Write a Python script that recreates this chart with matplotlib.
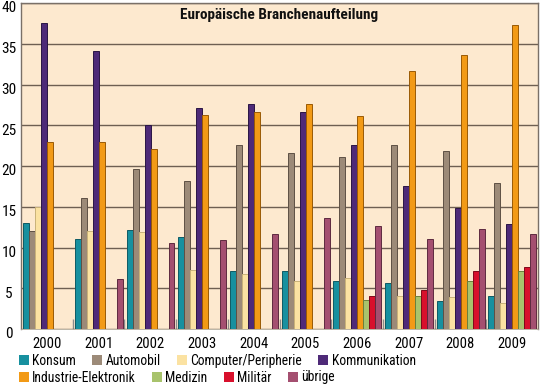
import numpy as np
import matplotlib
matplotlib.use("Agg")
import matplotlib.pyplot as plt
from matplotlib import font_manager
import matplotlib.transforms as mtransforms
from matplotlib.patches import Patch

names = {f.name for f in font_manager.fontManager.ttflist}
candidates = ["Liberation Sans Narrow", "Arial Narrow", "Roboto Condensed", "Archivo Narrow",
              "PT Sans Narrow", "Fira Sans Condensed", "IBM Plex Sans Condensed",
              "Encode Sans Condensed", "Barlow Semi Condensed", "Pragati Narrow", "DejaVu Sans"]
FAM = next(c for c in candidates if c in names)
plt.rcParams['font.family'] = [FAM, 'DejaVu Sans']

years = ["2000", "2001", "2002", "2003", "2004", "2005", "2006", "2007", "2008", "2009"]
series = ["Konsum", "Automobil", "Computer/Peripherie", "Kommunikation",
          "Industrie-Elektronik", "Medizin", "Militär", "übrige"]
konsum = [13.0, 11.1, 12.2, 11.3, 7.1, 7.1, 5.9, 5.6, 3.4, 4.1]
automobil = [12.0, 16.1, 19.6, 18.1, 22.6, 21.6, 21.1, 22.6, 21.9, 17.9]
computer = [15.0, 12.0, 11.9, 7.2, 6.7, 5.9, 6.3, 4.1, 3.9, 3.2]
kommunikation = [37.6, 34.1, 25.0, 27.1, 27.6, 26.6, 22.6, 17.6, 14.8, 12.9]
industrie = [22.9, 22.9, 22.1, 26.3, 26.6, 27.6, 26.1, 31.6, 33.6, 37.3]
medizin = [0, 0, 0, 0, 0, 0, 3.6, 4.1, 5.9, 7.1]
militaer = [0, 0, 0, 0, 0, 0, 4.1, 4.8, 7.1, 7.6]
uebrige = [0, 6.1, 10.6, 10.9, 11.6, 13.6, 12.6, 11.1, 12.3, 11.6]

values = [konsum, automobil, computer, kommunikation, industrie, medizin, militaer, uebrige]
colors = ["#17909f", "#9c8a78", "#fbe2a2", "#4e2a78", "#f29a16", "#a8c36c", "#d8102c", "#a44f70"]
edges = ["#0e5a64", "#5e5045", "#c9b27a", "#2a1545", "#9a5a05", "#6a803e", "#80081a", "#5e2a40"]

fig = plt.figure(figsize=(5.4, 3.85), dpi=100)
ax = fig.add_axes([21/540, 1 - 329/385, 517/540, 326/385])
ax.set_facecolor("#fde9cf")

x = np.arange(len(years))
w = 0.116
for i, (name, vals) in enumerate(zip(series, values)):
    vals = np.array(vals, dtype=float)
    m = vals > 0
    ax.bar(x[m] + (i - 3.5) * w + 0.005, vals[m], width=w, color=colors[i],
           edgecolor=edges[i], linewidth=0.7, zorder=3)

ax.set_xlim(-0.5, 9.5)
ax.set_ylim(0, 40)
ax.set_yticks(np.arange(0, 41, 5))
ax.yaxis.grid(True, color="#6e5f52", linewidth=1.0, zorder=1)
ax.set_axisbelow(True)
ax.set_xticks(x)
ax.set_xticklabels(years)
ax.set_xticks(np.arange(0.5, 9.5, 1), minor=True)
ax.tick_params(axis='x', which='major', length=0, pad=5.5, labelsize=10.5)
ax.tick_params(axis='x', which='minor', length=7, width=1, direction='in', color="#8c8c8c")
ax.tick_params(axis='y', length=0, pad=8.6, labelsize=11)
offset = mtransforms.ScaledTranslation(0, -4/100, fig.dpi_scale_trans)
for lab in ax.get_yticklabels():
    lab.set_horizontalalignment('center')
    lab.set_transform(lab.get_transform() + offset)

for s in ['left', 'top', 'right']:
    ax.spines[s].set_color("#7a7068")
    ax.spines[s].set_linewidth(1.0)
ax.spines['bottom'].set_color("#b0a898")
ax.spines['bottom'].set_linewidth(0.6)

ax.text(0.5, 0.962, "Europäische Branchenaufteilung", transform=ax.transAxes,
        ha='center', va='center', fontsize=11, fontweight='bold', color="#111111", zorder=5)

handles = [Patch(facecolor=c, edgecolor='none') for c in colors]
common = dict(frameon=False, fontsize=9.8, handlelength=0.72, handleheight=0.72,
              handletextpad=0.25, borderaxespad=0, borderpad=0, columnspacing=1.2, ncol=4)
leg1 = fig.legend(handles[:4], series[:4], loc='center left',
                  bbox_to_anchor=(19/540, 1 - 361/385), **common)
leg2 = fig.legend(handles[4:], series[4:], loc='center left',
                  bbox_to_anchor=(19/540, 1 - 377.5/385), **common)

fig.savefig("out.png", dpi=100)
